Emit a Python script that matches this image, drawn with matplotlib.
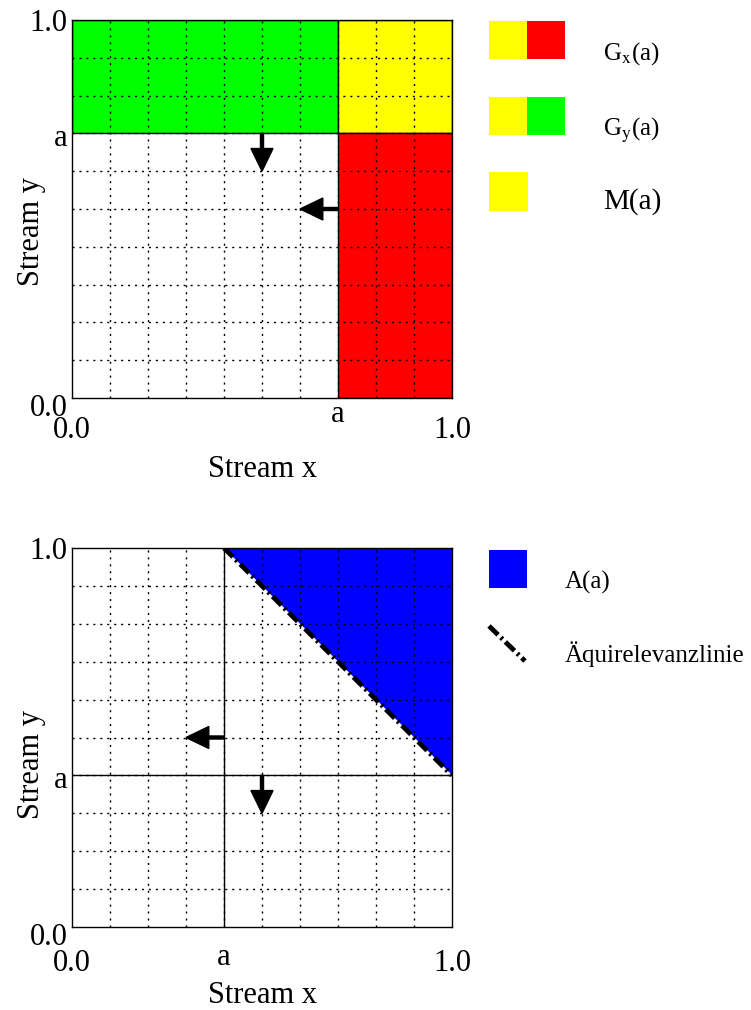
import matplotlib
matplotlib.use("Agg")
import matplotlib.pyplot as plt
from matplotlib.patches import Rectangle, Polygon
from matplotlib.transforms import ScaledTranslation
import numpy as np

plt.rcParams['font.family'] = ['Liberation Serif', 'DejaVu Serif']
plt.rcParams['mathtext.fontset'] = 'stix'

# ---- data ----
a_top = 0.7
a_bottom = 0.4
grid_ticks = np.round(np.arange(0.1, 1.0, 0.1), 2)
tick_labels = ["0.0", "a", "1.0"]

# top regions: (x0, x1, y0, y1, colour)
top_regions_x0 = [0.0, a_top, a_top]
top_regions_x1 = [a_top, 1.0, 1.0]
top_regions_y0 = [a_top, a_top, 0.0]
top_regions_y1 = [1.0, 1.0, a_top]
top_regions_col = ["#00ff00", "#ffff00", "#ff0000"]

# arrows (x, y, dx, dy)
top_arrows_x = [0.5, 0.7]
top_arrows_y = [0.7, 0.5]
top_arrows_dx = [0.0, -0.1]
top_arrows_dy = [-0.1, 0.0]

bot_arrows_x = [0.4, 0.5]
bot_arrows_y = [0.5, 0.4]
bot_arrows_dx = [-0.1, 0.0]
bot_arrows_dy = [0.0, -0.1]

DASHDOT = (0, (2.6, 0.8, 0.5, 0.8))

fig = plt.figure(figsize=(7.51, 10.10), dpi=100)
W, H = 751, 1010

def px_axes(l, t, r, b):
    return fig.add_axes([l / W, 1 - b / H, (r - l) / W, (b - t) / H])

ax1 = px_axes(72, 20, 452, 398)
ax2 = px_axes(72, 548, 452, 927)

def style(ax, a, ylab_center, xpad, xlab_y):
    ax.set_xlim(0, 1)
    ax.set_ylim(0, 1)
    for x in grid_ticks:
        ax.plot([x, x], [0, 1], color='black', lw=1.0, ls=(0, (1.5, 3.5)), zorder=3)
        ax.plot([0, 1], [x, x], color='black', lw=1.0, ls=(0, (1.5, 3.5)), zorder=3)
    ax.set_xticks([0, a, 1])
    ax.set_xticklabels(tick_labels)
    ax.set_yticks([0, a, 1])
    ax.set_yticklabels(tick_labels)
    ax.tick_params(axis='both', length=0, labelsize=22)
    ax.tick_params(axis='x', pad=xpad)
    ax.tick_params(axis='y', pad=3)
    for sp in ax.spines.values():
        sp.set_linewidth(1.0)
        sp.set_zorder(5)
    ax.set_xlabel("Stream x", fontsize=22)
    ax.xaxis.set_label_coords(0.5, xlab_y)
    ax.set_ylabel("Stream y", fontsize=22)
    ax.yaxis.set_label_coords(-0.068, ylab_center)

def shift_labels(ax, a_shift):
    fig.canvas.draw()
    xl = ax.get_xticklabels()
    for lab, dy in zip(xl, [0, a_shift, 0]):
        lab.set_transform(lab.get_transform() + ScaledTranslation(0, dy / 100, fig.dpi_scale_trans))
    yl = ax.get_yticklabels()
    for lab, dy in zip(yl, [-7, -2, 0]):
        lab.set_transform(lab.get_transform() + ScaledTranslation(0, dy / 100, fig.dpi_scale_trans))

def arrows(ax, xs, ys, dxs, dys):
    for x, y, dx, dy in zip(xs, ys, dxs, dys):
        ax.arrow(x, y, dx, dy, width=0.008, head_width=0.058, head_length=0.06,
                 length_includes_head=True, color='black', zorder=6)

# ---- top plot ----
for x0, x1, y0, y1, c in zip(top_regions_x0, top_regions_x1, top_regions_y0, top_regions_y1, top_regions_col):
    ax1.add_patch(Rectangle((x0, y0), x1 - x0, y1 - y0, facecolor=c, edgecolor='black', lw=1.0, zorder=2))
style(ax1, a_top, 0.44, 13, -0.15)
arrows(ax1, top_arrows_x, top_arrows_y, top_arrows_dx, top_arrows_dy)

# ---- bottom plot ----
ax2.add_patch(Polygon([(a_bottom, 1), (1, 1), (1, a_bottom)], closed=True,
                      facecolor='#0000ff', edgecolor='none', zorder=2))
ax2.plot([a_bottom, a_bottom], [0, 1], color='black', lw=1.0, zorder=4)
ax2.plot([0, 1], [a_bottom, a_bottom], color='black', lw=1.0, zorder=4)
ax2.plot([a_bottom, 1], [1, a_bottom], color='black', lw=3.5, ls=DASHDOT, zorder=5)
style(ax2, a_bottom, 0.43, 16, -0.143)
arrows(ax2, bot_arrows_x, bot_arrows_y, bot_arrows_dx, bot_arrows_dy)

# ---- legends (overlay in pixel coords) ----
lg = fig.add_axes([0, 0, 1, 1], zorder=10)
lg.set_xlim(0, W)
lg.set_ylim(H, 0)
lg.axis('off')

def rect(x0, y0, x1, y1, c):
    lg.add_patch(Rectangle((x0, y0), x1 - x0, y1 - y0, facecolor=c, edgecolor='none'))

rect(489, 21, 527, 59, "#ffff00")
rect(527, 21, 565, 59, "#ff0000")
lg.text(603, 60, r"G$_{\mathrm{x}}$(a)", fontsize=18, va='baseline', ha='left')
rect(489, 97, 527, 135, "#ffff00")
rect(527, 97, 565, 135, "#00ff00")
lg.text(603, 136, r"G$_{\mathrm{y}}$(a)", fontsize=18, va='baseline', ha='left')
rect(489, 172, 528, 211, "#ffff00")
lg.text(603, 209, "M(a)", fontsize=21, va='baseline', ha='left')

rect(489, 550, 527, 588, "#0000ff")
lg.text(565, 589, "A(a)", fontsize=18, va='baseline', ha='left')
lg.plot([489, 525], [626, 661], color='black', lw=3.5, ls=DASHDOT)
lg.text(565, 662, "Äquirelevanzlinie", fontsize=18, va='baseline', ha='left')

shift_labels(ax1, 16)
shift_labels(ax2, 6)

fig.savefig("out.png", dpi=100)
